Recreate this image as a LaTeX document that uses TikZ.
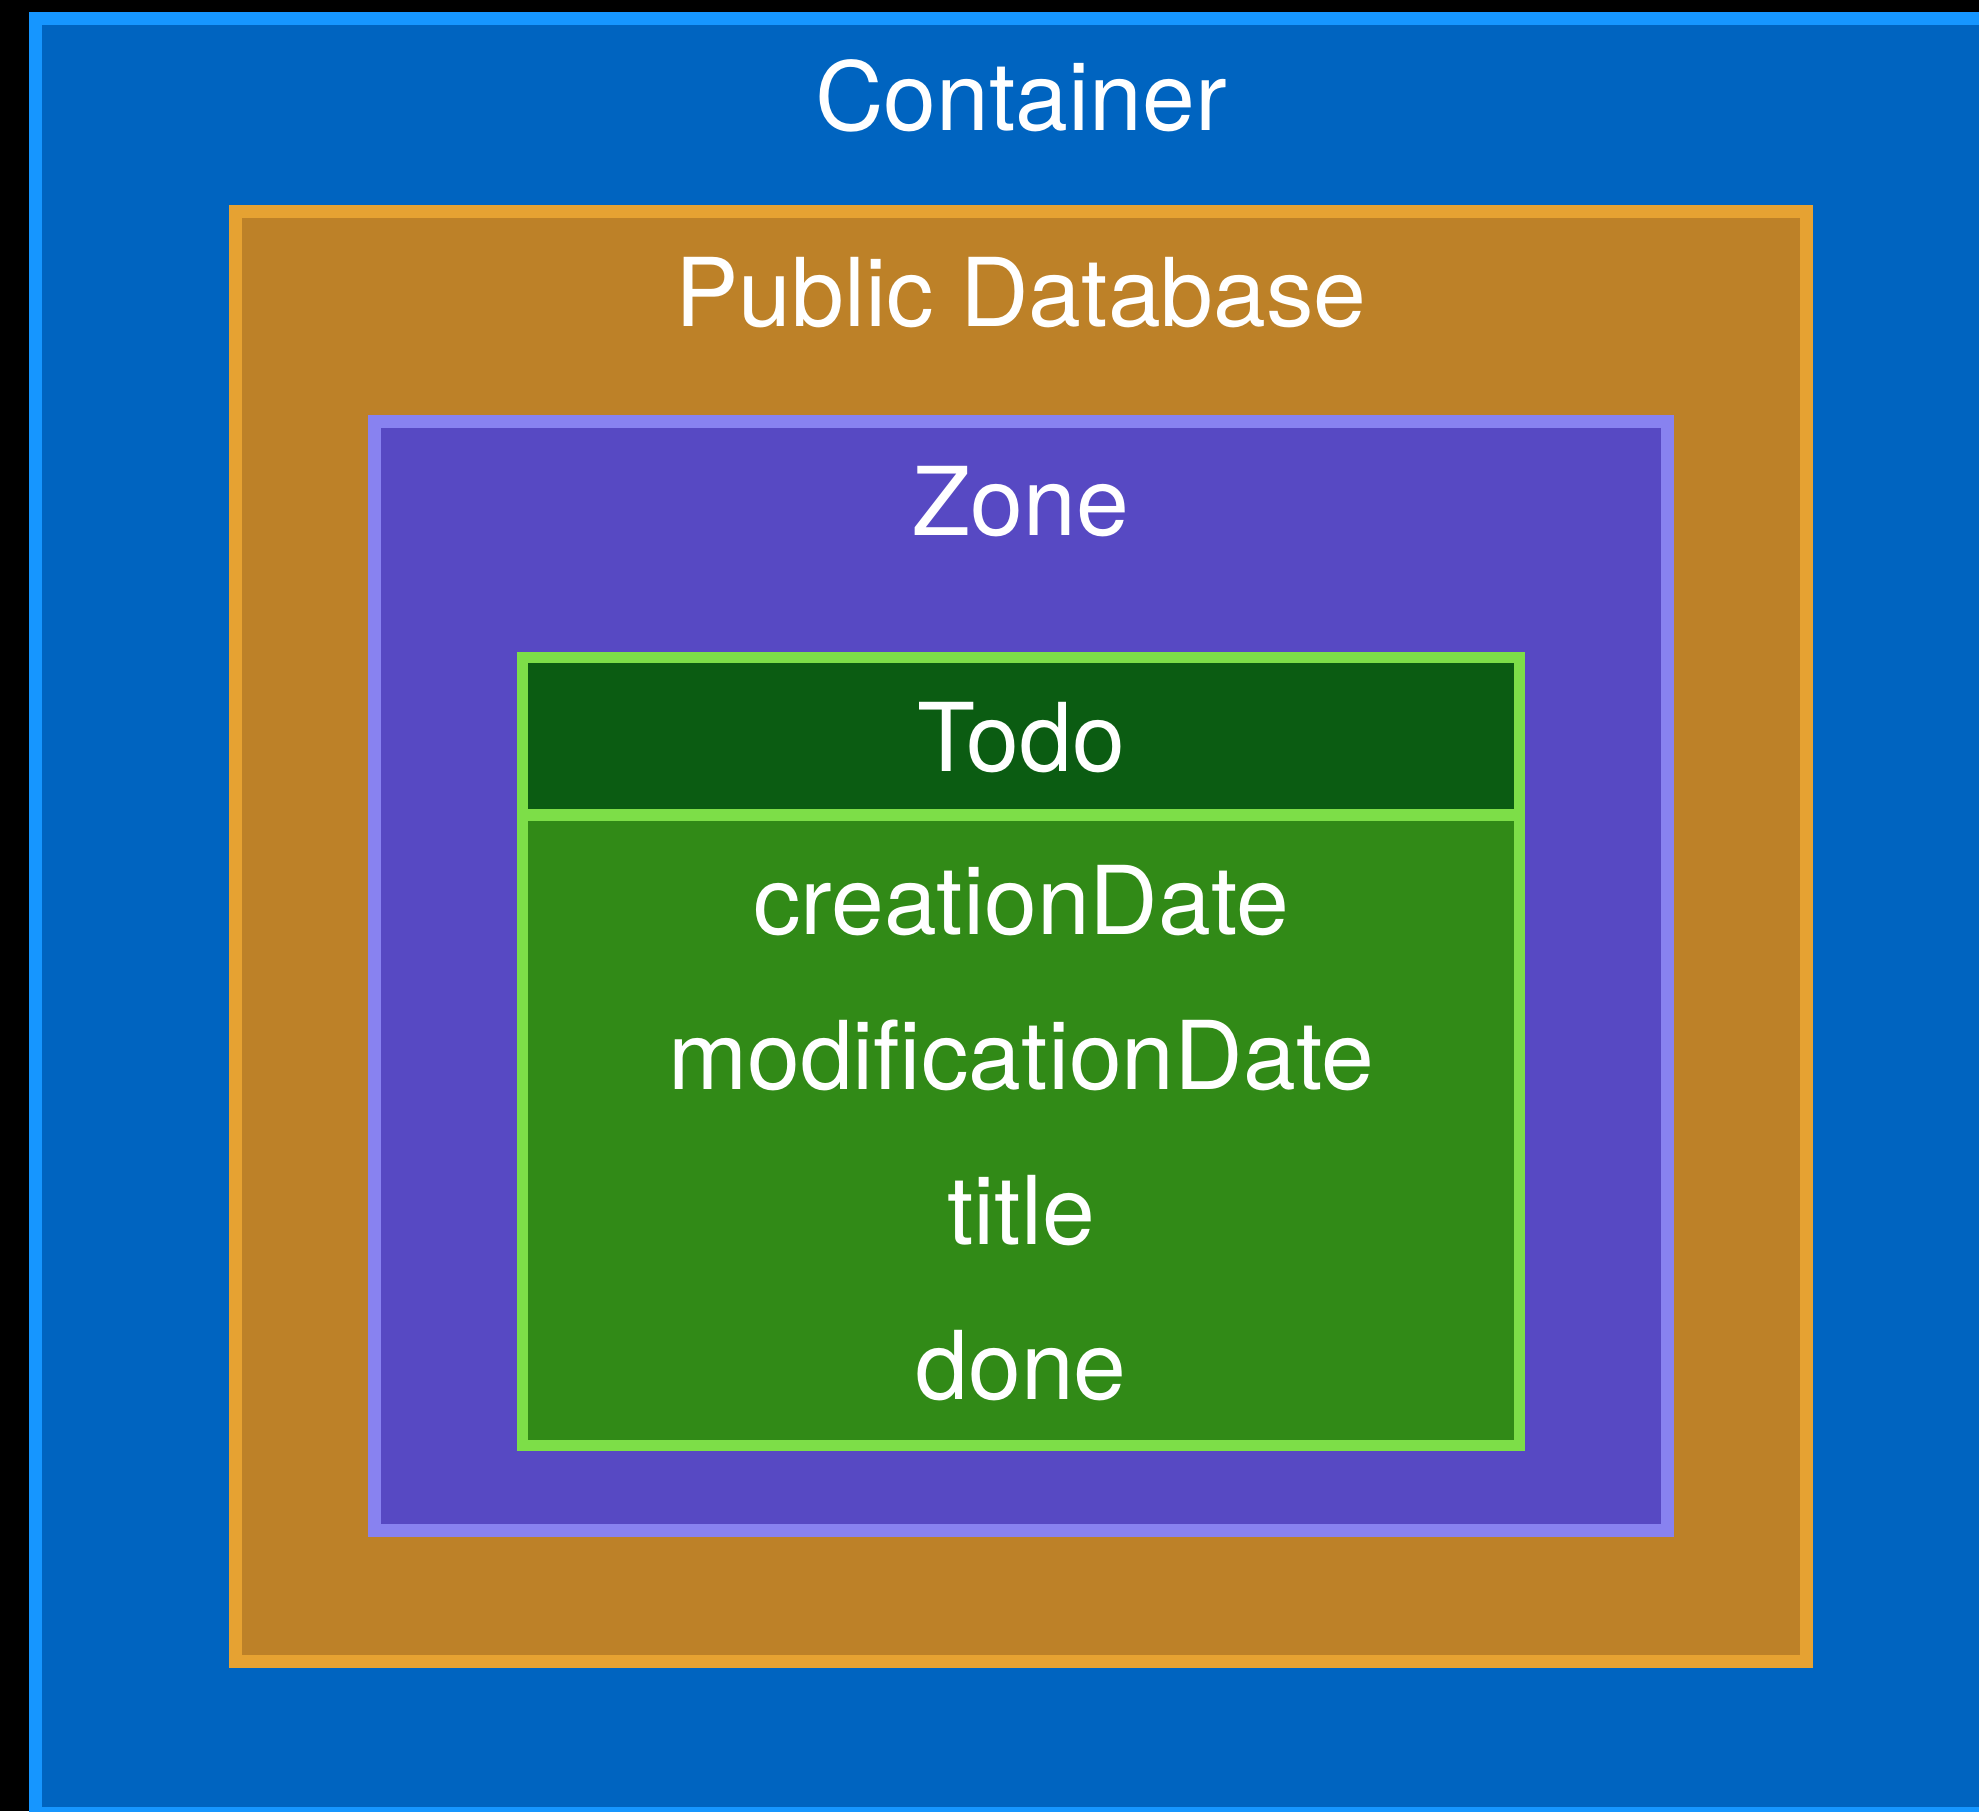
\documentclass[tikz,border=0pt]{standalone}
\usepackage{fontspec}
\setmainfont{TeX Gyre Heros}
\definecolor{ckBlue}{RGB}{0, 100, 192}
\definecolor{ckBlueLine}{RGB}{22, 150, 255}
\definecolor{ckOrange}{RGB}{189, 129, 40}
\definecolor{ckOrangeLine}{RGB}{230, 162, 50}
\definecolor{ckPurple}{RGB}{87, 73, 195}
\definecolor{ckPurpleLine}{RGB}{136, 130, 240}
\definecolor{ckDarkGreen}{RGB}{11, 92, 18}
\definecolor{ckGreen}{RGB}{49, 138, 23}
\definecolor{ckGreenLine}{RGB}{125, 222, 72}
\usetikzlibrary{positioning}

\begin{document}
\begin{tikzpicture}[x=0.01cm, y=-0.01cm,
  layer/.style={line width=3.7pt, line join=miter},
  label/.style={text=white, font=\fontsize{27}{32}\selectfont, anchor=base, inner sep=0pt}]
  \fill[black] (0,0) rectangle (1979,1811);
  \useasboundingbox (0,0) rectangle (1979,1811);
  \clip (0,0) rectangle (1979,1811);

  \draw[layer, fill=ckBlue, draw=ckBlueLine] (35.5,18.5) rectangle (2030,1813.5);
  \node[label] (container) at (1021,130) {Container};

  \draw[layer, fill=ckOrange, draw=ckOrangeLine] (235.5,211) rectangle (1806.5,1661.5);
  \node[label] (publicdb) at (1021,326) {Public Database};

  \draw[layer, fill=ckPurple, draw=ckPurpleLine] (374.5,421.5) rectangle (1667.5,1530.5);
  \node[label] (zone) at (1021,535) {Zone};

  % record type with its fields
  \fill[ckGreen] (522.5,815) rectangle (1519.5,1445.5);
  \fill[ckDarkGreen] (522.5,657.5) rectangle (1519.5,815);
  \draw[layer, line width=3.2pt, draw=ckGreenLine] (522.5,657.5) rectangle (1519.5,1445.5);
  \draw[line width=3.6pt, draw=ckGreenLine] (522.5,815) -- (1519.5,815);
  \node[label] (todo) at (1021,771) {Todo};
  \foreach \i/\field in {0/creationDate, 1/modificationDate, 2/title, 3/done} {
    \node[label] (field\i) at (1021,934+\i*155) {\field};
  }
\end{tikzpicture}
\end{document}
